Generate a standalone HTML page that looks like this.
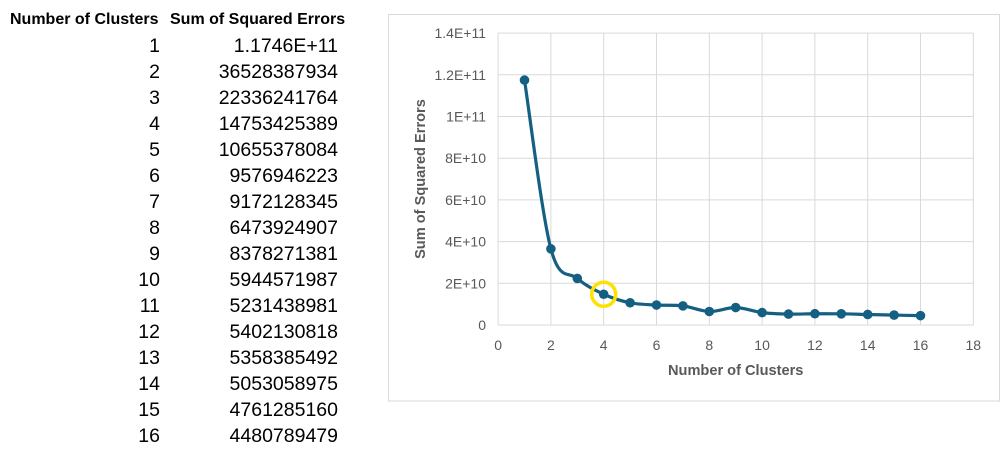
<!DOCTYPE html>
<html><head><meta charset="utf-8">
<style>
body{margin:0;width:1005px;height:465px;background:#fff;overflow:hidden;font-family:"Liberation Sans",sans-serif;position:relative}
.h{position:absolute;top:11px;font-weight:bold;font-size:16px;color:#000}
.c{position:absolute;font-size:19.5px;color:#000;text-align:right}
</style></head><body>
<div class="h" style="left:10px">Number of Clusters</div>
<div class="h" style="left:170px">Sum of Squared Errors</div>
<div id="tbl"></div>
<svg id="chart" width="1005" height="465" style="position:absolute;left:0;top:0"></svg>
<script>
const clusters=[1,2,3,4,5,6,7,8,9,10,11,12,13,14,15,16];
const sse=[117460000000,36528387934,22336241764,14753425389,10655378084,9576946223,9172128345,6473924907,8378271381,5944571987,5231438981,5402130818,5358385492,5053058975,4761285160,4480789479];
const sseLabels=["1.1746E+11","36528387934","22336241764","14753425389","10655378084","9576946223","9172128345","6473924907","8378271381","5944571987","5231438981","5402130818","5358385492","5053058975","4761285160","4480789479"];
const xTicks=[0,2,4,6,8,10,12,14,16,18];
const yTicks=[0,2e10,4e10,6e10,8e10,1e11,1.2e11,1.4e11];
const yTickLabels=["0","2E+10","4E+10","6E+10","8E+10","1E+11","1.2E+11","1.4E+11"];
const highlightIndex=3;

const tbl=document.getElementById('tbl');
clusters.forEach((c,i)=>{
  const top=34.5+i*26;
  const a=document.createElement('div');a.className='c';
  
  
  a.style.cssText=`left:100px;width:60px;top:${top}px`;a.textContent=c;tbl.appendChild(a);
  const b=document.createElement('div');b.className='c';
  
  
  b.style.cssText=`left:170px;width:168px;top:${top}px`;b.textContent=sseLabels[i];tbl.appendChild(b);
});

const svg=document.getElementById('chart');const NS='http://www.w3.org/2000/svg';
function el(t,attrs,name){const e=document.createElementNS(NS,t);for(const k in attrs)e.setAttribute(k,attrs[k]);


svg.appendChild(e);return e;}
const X=v=>498.1+v*26.4, Y=v=>325-v/2e10*41.7;
el('rect',{x:388.5,y:14.5,width:611,height:386.5,fill:'#fff',stroke:'#d9d9d9'},'chart-border');
xTicks.forEach(t=>{ if(t>0) el('line',{x1:X(t),x2:X(t),y1:Y(1.4e11),y2:Y(0),stroke:'#d9d9d9'},'x-gridline');
  const tx=el('text',{x:X(t),y:350,'text-anchor':'middle','font-size':14,fill:'#595959','font-family':'Liberation Sans'},'x-tick-label');tx.textContent=t;});
yTicks.forEach((t,i)=>{ el('line',{x1:X(0),x2:X(18),y1:Y(t),y2:Y(t),stroke:'#d9d9d9'},'y-gridline');
  const tx=el('text',{x:486,y:Y(t)+5,'text-anchor':'end','font-size':14,fill:'#595959','font-family':'Liberation Sans'},'y-tick-label');tx.textContent=yTickLabels[i];});
el('line',{x1:X(0),x2:X(0),y1:Y(1.4e11),y2:Y(0),stroke:'#d9d9d9'},'y-axis-line');
const xt=el('text',{x:X(9),y:375,'text-anchor':'middle','font-size':14.6,'font-weight':'bold',fill:'#595959','font-family':'Liberation Sans'},'x-axis-title');xt.textContent='Number of Clusters';
const yt=el('text',{x:0,y:0,transform:`translate(425,${Y(7e10)}) rotate(-90)`,'text-anchor':'middle','font-size':14.6,'font-weight':'bold',fill:'#595959','font-family':'Liberation Sans'},'y-axis-title');yt.textContent='Sum of Squared Errors';
const P=clusters.map((c,i)=>[X(c),Y(sse[i])]);
let d=`M${P[0][0]},${P[0][1]}`;
for(let i=0;i<P.length-1;i++){const p0=P[Math.max(0,i-1)],p1=P[i],p2=P[i+1],p3=P[Math.min(P.length-1,i+2)];const k=1/6;
d+=` C${p1[0]+(p2[0]-p0[0])*k},${p1[1]+(p2[1]-p0[1])*k} ${p2[0]-(p3[0]-p1[0])*k},${p2[1]-(p3[1]-p1[1])*k} ${p2[0]},${p2[1]}`;}
el('path',{d,fill:'none',stroke:'#156082','stroke-width':3.2},'sse-line');
P.forEach(p=>el('circle',{cx:p[0],cy:p[1],r:4.8,fill:'#156082'},'sse-point'));
el('circle',{cx:P[highlightIndex][0],cy:P[highlightIndex][1],r:12,fill:'none',stroke:'#ffe100','stroke-width':3.5},'elbow-highlight');
</script>
</body></html>
